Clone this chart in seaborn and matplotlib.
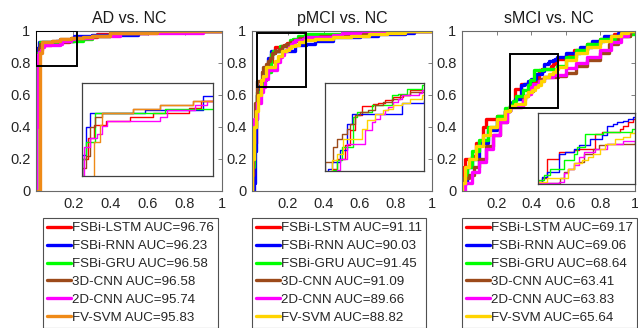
import numpy as np
import pandas as pd
import matplotlib
matplotlib.use("Agg")
import matplotlib.pyplot as plt
from matplotlib.patches import Rectangle
import seaborn as sns

# ---------------------------------------------------------------------------
# Data: ROC step vertices (fpr, tpr)
# ---------------------------------------------------------------------------
METHODS = ["FSBi-LSTM", "FSBi-RNN", "FSBi-GRU", "3D-CNN", "2D-CNN", "FV-SVM"]
TITLES = ["AD vs. NC", "pMCI vs. NC", "sMCI vs. NC"]

AUC_AD = [96.76, 96.23, 96.58, 96.58, 95.74, 95.83]
AUC_PMCI = [91.11, 90.03, 91.45, 91.09, 89.66, 88.82]
AUC_SMCI = [69.17, 69.06, 68.64, 63.41, 63.83, 65.64]

# AD vs. NC
ad_lstm = [(0, 0), (0, 0.82), (0.01, 0.87), (0.02, 0.90), (0.04, 0.91), (0.08, 0.92),
           (0.12, 0.93), (0.18, 0.94), (0.2, 0.957), (0.25, 0.965), (0.33, 0.98),
           (0.4, 0.99), (0.5, 1.0), (1, 1)]
ad_rnn = [(0, 0), (0, 0.83), (0.006, 0.896), (0.014, 0.929), (0.106, 0.937),
          (0.203, 0.969), (0.3, 0.972), (0.4, 0.975), (0.55, 0.99), (0.6, 1.0), (1, 1)]
ad_gru = [(0, 0), (0, 0.82), (0.006, 0.861), (0.022, 0.929), (0.139, 0.938),
          (0.25, 0.95), (0.3, 0.97), (0.4, 0.99), (0.55, 1.0), (1, 1)]
ad_3dcnn = [(0, 0), (0, 0.80), (0.006, 0.828), (0.014, 0.896), (0.022, 0.92),
            (0.034, 0.929), (0.086, 0.938), (0.131, 0.948), (0.186, 0.957),
            (0.3, 0.97), (0.4, 0.99), (0.6, 1.0), (1, 1)]
ad_2dcnn = [(0, 0), (0, 0.40), (0.003, 0.849), (0.014, 0.87), (0.025, 0.88),
            (0.034, 0.898), (0.042, 0.91), (0.131, 0.92), (0.142, 0.937),
            (0.19, 0.948), (0.21, 0.957), (0.3, 0.97), (0.45, 0.985), (0.6, 0.99),
            (0.9, 1.0), (1, 1)]
ad_svm = [(0, 0), (0.02, 0.861), (0.031, 0.90), (0.034, 0.929), (0.086, 0.938),
          (0.131, 0.948), (0.187, 0.957), (0.25, 0.96), (0.3, 0.97), (0.4, 0.985),
          (0.55, 0.99), (0.65, 1.0), (1, 1)]

# pMCI vs. NC
pm_lstm = [(0, 0), (0.005, 0.05), (0.01, 0.3), (0.02, 0.5), (0.03, 0.6), (0.04, 0.63),
           (0.053, 0.659), (0.062, 0.698), (0.085, 0.749), (0.098, 0.807),
           (0.112, 0.865), (0.13, 0.9), (0.162, 0.908), (0.175, 0.913),
           (0.194, 0.923), (0.216, 0.936), (0.244, 0.942), (0.262, 0.962),
           (0.4, 0.97), (0.5, 0.98), (0.62, 0.99), (0.75, 1.0), (1, 1)]
pm_rnn = [(0, 0), (0.01, 0.05), (0.015, 0.25), (0.02, 0.45), (0.03, 0.6),
          (0.039, 0.659), (0.048, 0.685), (0.071, 0.73), (0.089, 0.833),
          (0.103, 0.872), (0.239, 0.913), (0.3, 0.92), (0.35, 0.94), (0.45, 0.96),
          (0.6, 0.97), (0.7, 0.98), (0.85, 0.99), (0.9, 1.0), (1, 1)]
pm_gru = [(0, 0), (0, 0.15), (0.01, 0.4), (0.02, 0.55), (0.03, 0.62), (0.048, 0.653),
          (0.062, 0.691), (0.075, 0.743), (0.107, 0.859), (0.116, 0.878),
          (0.157, 0.904), (0.212, 0.942), (0.23, 0.949), (0.253, 0.968),
          (0.294, 0.981), (0.5, 0.99), (0.7, 1.0), (1, 1)]
pm_3dcnn = [(0, 0), (0, 0.1), (0.005, 0.4), (0.015, 0.55), (0.025, 0.65),
            (0.03, 0.685), (0.053, 0.743), (0.062, 0.775), (0.075, 0.794),
            (0.089, 0.814), (0.098, 0.833), (0.112, 0.865), (0.125, 0.878),
            (0.148, 0.887), (0.166, 0.904), (0.189, 0.917), (0.212, 0.93),
            (0.235, 0.942), (0.262, 0.955), (0.38, 0.97), (0.5, 0.98),
            (0.6, 0.99), (0.75, 1.0), (1, 1)]
pm_2dcnn = [(0, 0), (0, 0.3), (0.01, 0.45), (0.03, 0.55), (0.05, 0.62),
            (0.062, 0.653), (0.071, 0.698), (0.089, 0.756), (0.139, 0.807),
            (0.157, 0.839), (0.166, 0.852), (0.18, 0.872), (0.194, 0.887),
            (0.203, 0.897), (0.216, 0.917), (0.23, 0.93), (0.239, 0.942),
            (0.285, 0.951), (0.294, 0.962), (0.45, 0.975), (0.5, 0.99),
            (0.6, 1.0), (1, 1)]
pm_svm = [(0, 0), (0, 0.2), (0.01, 0.4), (0.02, 0.5), (0.035, 0.6), (0.048, 0.691),
          (0.062, 0.717), (0.08, 0.775), (0.13, 0.814), (0.144, 0.846),
          (0.166, 0.872), (0.189, 0.884), (0.203, 0.891), (0.216, 0.904),
          (0.239, 0.913), (0.262, 0.93), (0.294, 0.942), (0.35, 0.95),
          (0.45, 0.96), (0.55, 0.97), (0.65, 0.98), (0.75, 0.99), (0.85, 1.0), (1, 1)]

# sMCI vs. NC
sm_lstm = [(0, 0), (0, 0.1), (0.01, 0.15), (0.02, 0.2), (0.06, 0.22), (0.08, 0.3),
           (0.12, 0.4), (0.14, 0.45), (0.2, 0.47), (0.25, 0.5), (0.28, 0.531),
           (0.291, 0.546), (0.306, 0.64), (0.339, 0.671), (0.382, 0.679),
           (0.396, 0.687), (0.443, 0.757), (0.462, 0.764), (0.514, 0.78),
           (0.524, 0.795), (0.538, 0.811), (0.552, 0.827), (0.6, 0.85),
           (0.65, 0.88), (0.72, 0.92), (0.8, 0.95), (0.88, 0.98), (0.92, 1.0), (1, 1)]
sm_rnn = [(0, 0), (0.01, 0.05), (0.03, 0.15), (0.06, 0.2), (0.1, 0.3), (0.15, 0.38),
          (0.2, 0.44), (0.25, 0.5), (0.28, 0.531), (0.291, 0.554), (0.306, 0.578),
          (0.339, 0.663), (0.358, 0.671), (0.382, 0.687), (0.396, 0.702),
          (0.429, 0.733), (0.462, 0.749), (0.476, 0.795), (0.495, 0.803),
          (0.505, 0.811), (0.524, 0.819), (0.538, 0.827), (0.552, 0.838),
          (0.6, 0.86), (0.68, 0.9), (0.75, 0.94), (0.82, 0.97), (0.9, 0.99),
          (0.95, 1.0), (1, 1)]
sm_gru = [(0, 0), (0.01, 0.08), (0.03, 0.15), (0.06, 0.25), (0.1, 0.32), (0.15, 0.4),
          (0.2, 0.47), (0.25, 0.52), (0.28, 0.539), (0.296, 0.562), (0.315, 0.593),
          (0.353, 0.632), (0.382, 0.663), (0.391, 0.694), (0.415, 0.757),
          (0.467, 0.764), (0.548, 0.78), (0.6, 0.84), (0.66, 0.88), (0.72, 0.92),
          (0.8, 0.95), (0.9, 0.97), (0.97, 0.98), (1, 1)]
sm_3dcnn = [(0, 0), (0, 0.08), (0.04, 0.1), (0.07, 0.15), (0.1, 0.2), (0.14, 0.28),
            (0.18, 0.35), (0.22, 0.43), (0.26, 0.5), (0.28, 0.526), (0.344, 0.546),
            (0.353, 0.578), (0.367, 0.593), (0.382, 0.617), (0.396, 0.624),
            (0.41, 0.663), (0.438, 0.687), (0.453, 0.702), (0.476, 0.71),
            (0.557, 0.717), (0.6, 0.74), (0.66, 0.78), (0.72, 0.82), (0.8, 0.86),
            (0.85, 0.92), (0.9, 0.97), (0.97, 1.0), (1, 1)]
sm_2dcnn = [(0, 0), (0.02, 0.05), (0.06, 0.12), (0.1, 0.18), (0.14, 0.26),
            (0.18, 0.35), (0.22, 0.43), (0.26, 0.5), (0.28, 0.523), (0.339, 0.531),
            (0.353, 0.57), (0.367, 0.593), (0.382, 0.609), (0.396, 0.648),
            (0.41, 0.671), (0.443, 0.687), (0.476, 0.71), (0.524, 0.725),
            (0.6, 0.77), (0.66, 0.8), (0.72, 0.84), (0.8, 0.88), (0.86, 0.93),
            (0.92, 0.97), (0.96, 1.0), (1, 1)]
sm_svm = [(0, 0), (0, 0.05), (0.02, 0.15), (0.04, 0.2), (0.08, 0.28), (0.12, 0.35),
          (0.16, 0.4), (0.2, 0.45), (0.25, 0.5), (0.28, 0.531), (0.306, 0.546),
          (0.367, 0.593), (0.382, 0.617), (0.405, 0.632), (0.424, 0.648),
          (0.438, 0.663), (0.457, 0.687), (0.472, 0.71), (0.5, 0.733),
          (0.524, 0.741), (0.543, 0.76), (0.557, 0.772), (0.6, 0.82), (0.66, 0.86),
          (0.72, 0.9), (0.8, 0.94), (0.86, 0.97), (0.92, 0.99), (0.96, 1.0), (1, 1)]

PANEL_CURVES = [
    [ad_lstm, ad_rnn, ad_gru, ad_3dcnn, ad_2dcnn, ad_svm],
    [pm_lstm, pm_rnn, pm_gru, pm_3dcnn, pm_2dcnn, pm_svm],
    [sm_lstm, sm_rnn, sm_gru, sm_3dcnn, sm_2dcnn, sm_svm],
]
PANEL_AUCS = [AUC_AD, AUC_PMCI, AUC_SMCI]

# zoom windows (x0, x1, y0, y1) shown in the insets
ZOOM_BOXES = [(0.0, 0.22, 0.78, 1.0), (0.03, 0.30, 0.65, 0.99), (0.28, 0.557, 0.52, 0.855)]

# ---------------------------------------------------------------------------
# Style
# ---------------------------------------------------------------------------
sns.set_theme(style="white")
plt.rcParams.update({
    "font.family": ["Liberation Sans", "DejaVu Sans"],
    "axes.edgecolor": "#6a6a6a",
    "axes.linewidth": 0.8,
})

COLORS_A = ["#ff0000", "#0000ff", "#00ff00", "#9c4a1a", "#ff00ff", "#ef8a17"]
COLORS_B = ["#ff0000", "#0000ff", "#00ff00", "#9c4a1a", "#ff00ff", "#ffd400"]
PANEL_COLORS = [COLORS_A, COLORS_B, COLORS_B]

W, H = 638, 328
AX_POS = [(36, 222), (252, 432), (462, 635)]     # pixel left/right of main axes
AX_TOP, AX_BOT = 31, 191
INSET_POS = [(82, 213, 83, 176), (325, 424, 83, 171), (538, 635, 113, 184)]
LEG_LEFT = [43, 252, 462]


def fig_rect(x0, x1, y0, y1):
    return [x0 / W, (H - y1) / H, (x1 - x0) / W, (y1 - y0) / H]


fig = plt.figure(figsize=(W / 100, H / 100), dpi=100)
fig.patch.set_facecolor("white")

for p in range(3):
    curves = PANEL_CURVES[p]
    aucs = PANEL_AUCS[p]
    colors = PANEL_COLORS[p]
    left, right = AX_POS[p]
    ax = fig.add_axes(fig_rect(left, right, AX_TOP, AX_BOT))
    ix0, ix1, iy0, iy1 = INSET_POS[p]
    axin = fig.add_axes(fig_rect(ix0, ix1, iy0, iy1))

    for k, pts in enumerate(curves):
        df = pd.DataFrame(pts, columns=["fpr", "tpr"])
        label = f"{METHODS[k]} AUC={aucs[k]:.2f}"
        sns.lineplot(data=df, x="fpr", y="tpr", ax=ax, color=colors[k], lw=2.4,
                     drawstyle="steps-post", estimator=None, sort=False,
                     label=label, legend=False)
        sns.lineplot(data=df, x="fpr", y="tpr", ax=axin, color=colors[k], lw=1.0,
                     drawstyle="steps-post", estimator=None, sort=False,
                     legend=False)

    zx0, zx1, zy0, zy1 = ZOOM_BOXES[p]
    ax.add_patch(Rectangle((zx0, zy0), zx1 - zx0, zy1 - zy0, fill=False,
                           edgecolor="black", lw=1.4, zorder=5))

    ax.set_xlim(0, 1)
    ax.set_ylim(0, 1)
    ax.set_xticks([0.2, 0.4, 0.6, 0.8, 1.0])
    ax.set_xticklabels(["0.2", "0.4", "0.6", "0.8", "1"])
    ax.set_yticks([0, 0.2, 0.4, 0.6, 0.8, 1.0])
    ax.set_yticklabels(["0", "0.2", "0.4", "0.6", "0.8", "1"])
    ax.tick_params(direction="in", length=3, width=0.6, color="#6a6a6a",
                   top=True, right=True, labelsize=10.5, pad=4,
                   labelcolor="#262626")
    ax.set_xlabel("")
    ax.set_ylabel("")
    ax.set_title(TITLES[p], fontsize=11.5, color="#1a1a1a", pad=6)

    axin.set_xlim(zx0, zx1)
    axin.set_ylim(zy0, zy1)
    axin.set_xticks([])
    axin.set_yticks([])
    axin.set_xlabel("")
    axin.set_ylabel("")
    for s in axin.spines.values():
        s.set_color("#404040")
        s.set_linewidth(0.9)

    leg_x = (LEG_LEFT[p] - left) / (right - left)
    leg_y = -(218 - AX_BOT) / (AX_BOT - AX_TOP)
    leg = ax.legend(loc="upper left", bbox_to_anchor=(leg_x, leg_y),
                    fontsize=9.6, frameon=True, fancybox=False, framealpha=1,
                    edgecolor="#505050", borderpad=0.3, labelspacing=0.42,
                    handlelength=1.8, handletextpad=0.1, borderaxespad=0)
    leg.get_frame().set_linewidth(0.8)
    for line in leg.get_lines():
        line.set_linewidth(2.4)

fig.savefig("out.png", dpi=100, facecolor="white")
